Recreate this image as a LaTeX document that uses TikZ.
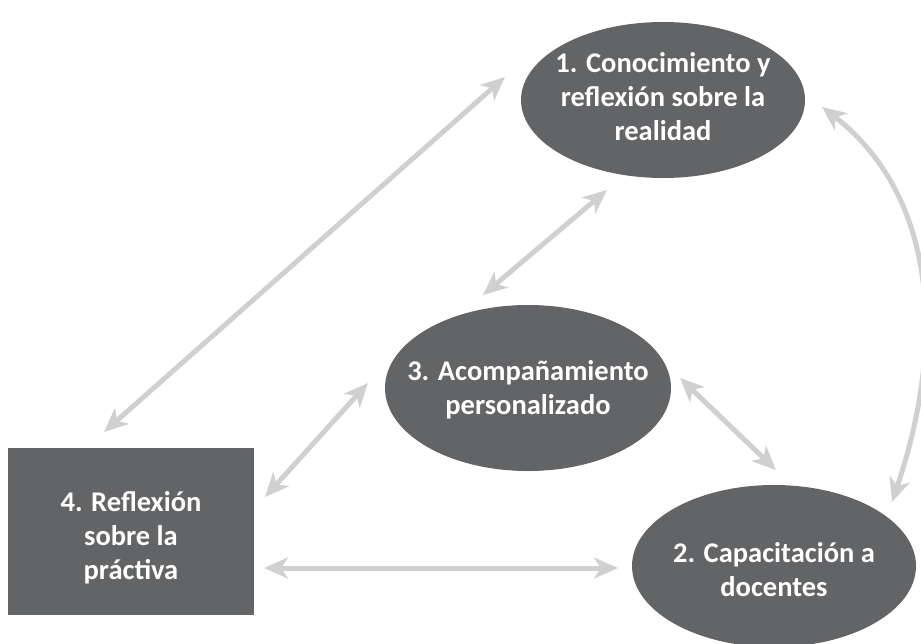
\documentclass[tikz,border=0pt]{standalone}
\usepackage{fontspec}
\setmainfont{Carlito}
\usetikzlibrary{arrows.meta}
\definecolor{nodegray}{HTML}{636466}
\definecolor{arrowgray}{HTML}{CFD0D2}
\tikzset{
  x=1pt,y=-1pt,
  label/.style={text=white,font=\bfseries\fontsize{28.5}{34}\selectfont,align=center,inner sep=0pt},
  link/.style={draw=arrowgray,line width=5pt,{Stealth[length=24pt,width=21pt,inset=7pt]}-{Stealth[length=24pt,width=21pt,inset=7pt]}}
}
\begin{document}
\begin{tikzpicture}
\useasboundingbox (0,0) rectangle (921,643);
\fill[nodegray] (663,100) ellipse [x radius=142,y radius=78];
\node[label] (n1) at (663,97) {1. Conocimiento y\\reflexión sobre la\\realidad};
\fill[nodegray] (528,388) ellipse [x radius=143,y radius=83];
\node[label] (n3) at (528,390) {3. Acompañamiento\\personalizado};
\fill[nodegray] (774,566) ellipse [x radius=142,y radius=81];
\node[label] (n2) at (774,570) {2. Capacitación a\\docentes};
\fill[nodegray] (8,448) rectangle (254,615);
\node[label] (n4) at (131,538) {4. Reflexión\\sobre la\\práctiva};
\coordinate (a1s) at (104,432); \coordinate (a1e) at (505,77);
\coordinate (a2s) at (483,295); \coordinate (a2e) at (607,190);
\coordinate (a3s) at (265,497); \coordinate (a3e) at (368,383);
\coordinate (a4s) at (680,378); \coordinate (a4e) at (776,470);
\coordinate (a5s) at (264,568); \coordinate (a5e) at (618,568);
\coordinate (a6s) at (822,107); \coordinate (a6e) at (892,502);
\draw[link] (a1s) -- (a1e);
\draw[link] (a2s) -- (a2e);
\draw[link] (a3s) -- (a3e);
\draw[link] (a4s) -- (a4e);
\draw[link] (a5s) -- (a5e);
\draw[link] (a6s) .. controls (930,190) and (950,330) .. (a6e);
\end{tikzpicture}
\end{document}
